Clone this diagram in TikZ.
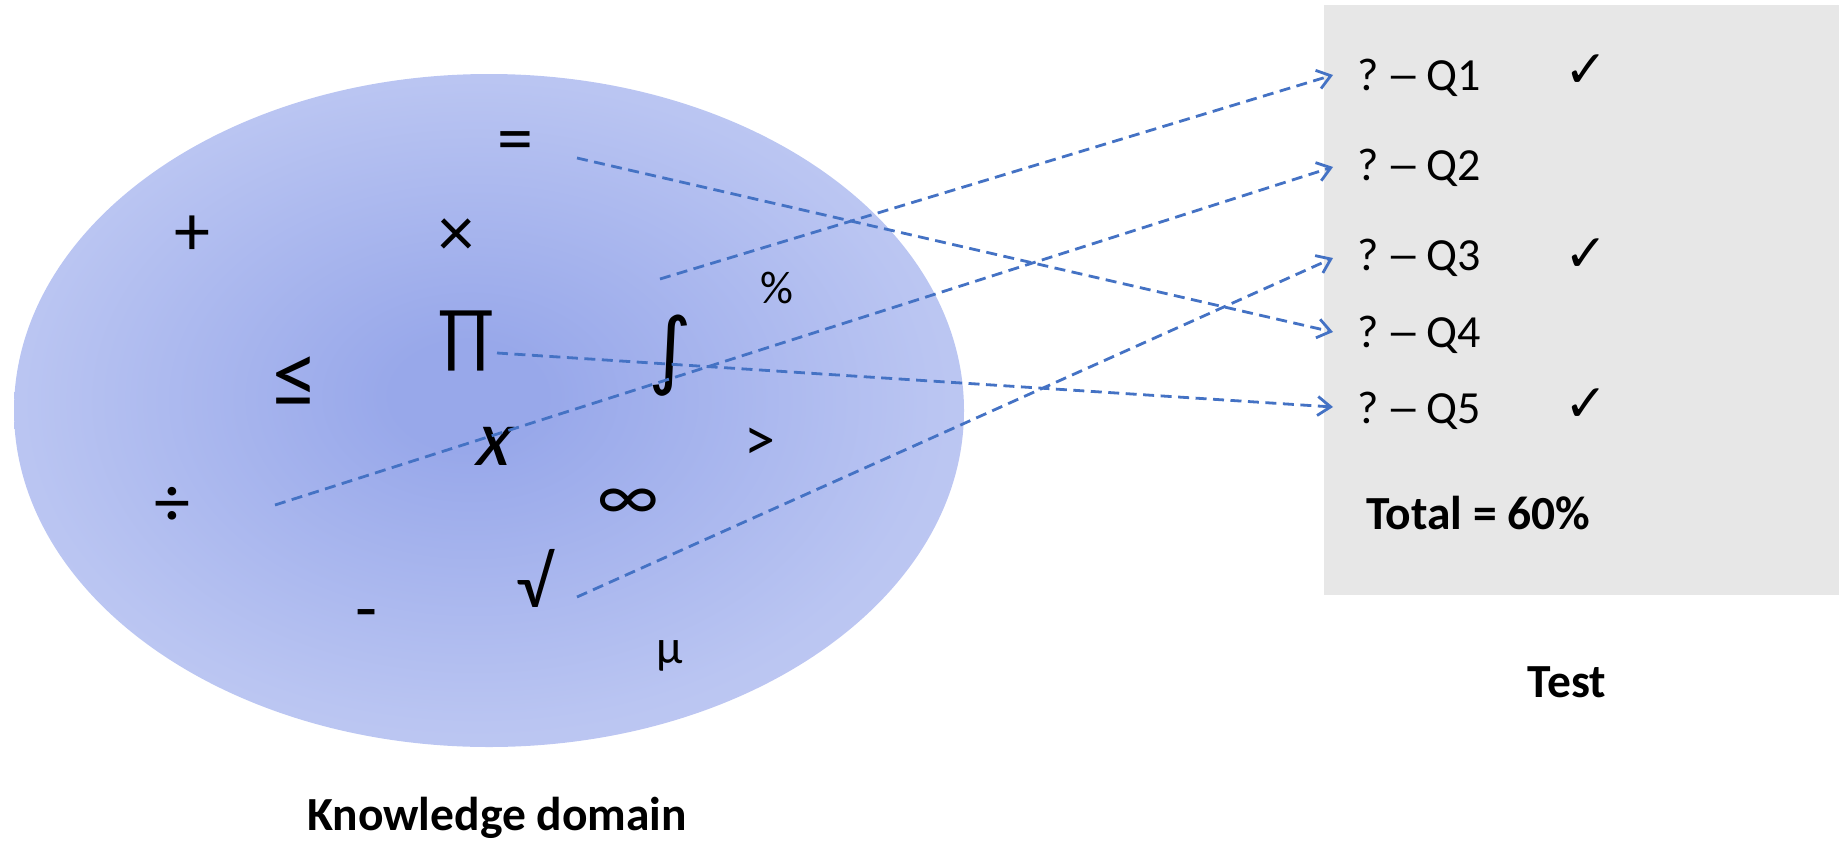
\documentclass[tikz,border=0pt]{standalone}
\usepackage{graphicx}
\usepackage{fontspec}
\setmainfont{Carlito}
\newfontfamily\tickfont{DejaVu Sans}
\newfontfamily\varfont[FakeSlant=0.22]{Carlito}
\usetikzlibrary{arrows.meta}
\definecolor{kdin}{RGB}{152,168,234}
\definecolor{kdmid}{RGB}{186,197,242}
\definecolor{kdout}{RGB}{212,219,249}
\definecolor{linkblue}{RGB}{68,114,196}
\definecolor{panelgray}{RGB}{231,231,231}
% soft blue cloud for the knowledge domain, darkest slightly left of centre
\pgfdeclareradialshading{kdshade}{\pgfpoint{-1.2bp}{1.2bp}}{color(0bp)=(kdin); color(4bp)=(kdin); color(24bp)=(kdmid); color(50bp)=(kdout)}
\newcommand{\qdash}{\hspace{8pt}\scalebox{1.5}[1]{–}\hspace{6pt}}
\tikzset{
  sym/.style={inner sep=0pt, font=\fontsize{72}{76}\selectfont},
  qrow/.style={anchor=base west, inner xsep=24pt, inner ysep=0pt, font=\fontsize{46}{50}\selectfont},
  tick/.style={inner sep=0pt, font=\tickfont\fontsize{52}{56}\selectfont},
  caption/.style={inner sep=0pt, font=\bfseries\fontsize{47.5}{52}\selectfont},
  link/.style={draw=linkblue, line width=2.8pt, dash pattern=on 11pt off 6.5pt,
    -{Straight Barb[length=13pt,width=19pt]}}
}
\begin{document}
\begin{tikzpicture}[x=1pt,y=-1pt]
\useasboundingbox (0,0) rectangle (1839,841);

% test panel
\fill[panelgray] (1324,5) rectangle (1839,595);

% knowledge domain
\path[shading=kdshade] (489,410.5) ellipse [x radius=475, y radius=336.5];

% symbols of the domain
\node[sym] (eq)    at (515,147) {=};
\node[sym] (plus)  at (192,236) {+};
\node[sym] (times) at (456,238) {×};
\node[sym, font=\fontsize{46}{50}\selectfont] (pct) at (777,288) {\%};
\node[sym] (prod)  at (466,341) {∏};
\node[sym, font=\tickfont\fontsize{84}{88}\selectfont] (integ) at (670,356) {∫};
\node[sym, font=\fontsize{92}{96}\selectfont] (leq) at (295,382) {≤};
\node[sym, font=\varfont\fontsize{80}{84}\selectfont] (var) at (491,446) {x};
\node[sym, font=\fontsize{62}{66}\selectfont] (gt) at (760,444) {>};
\node[sym] (div)   at (172,507) {÷};
\node[sym] (inf)   at (628,505) {∞};
\node[sym] (root)  at (534,578) {√};
\node[sym] (minus) at (367,621) {-};
\node[sym, font=\fontsize{48}{52}\selectfont] (mu) at (670,656) {μ};

% questions of the test
\node[qrow] (q1) at (1333,90)  {?\qdash Q1};
\node[qrow] (q2) at (1333,180) {?\qdash Q2};
\node[qrow] (q3) at (1333,270) {?\qdash Q3};
\node[qrow] (q4) at (1333,347) {?\qdash Q4};
\node[qrow] (q5) at (1333,423) {?\qdash Q5};

\node[tick] (c1) at (1586,71)  {✓};
\node[tick] (c3) at (1586,255) {✓};
\node[tick] (c5) at (1586,405) {✓};

\node[caption, anchor=base west] (total) at (1366,529) {Total = 60\%};
\node[caption, anchor=base] (test) at (1567,697) {Test};
\node[caption, anchor=base] (kd) at (497,830) {Knowledge domain};

% where each link leaves the domain
\coordinate (sEq)   at (577,158);
\coordinate (sMid)  at (660,279);
\coordinate (sDiv)  at (275,505);
\coordinate (sProd) at (497,353);
\coordinate (sRoot) at (577,597);

\draw[link] (sEq)   -- ([yshift=15pt]q4.base west);
\draw[link] (sMid)  -- ([yshift=15pt]q1.base west);
\draw[link] (sDiv)  -- ([yshift=13pt]q2.base west);
\draw[link] (sProd) -- ([yshift=16pt]q5.base west);
\draw[link] (sRoot) -- ([yshift=12pt]q3.base west);
\end{tikzpicture}
\end{document}
